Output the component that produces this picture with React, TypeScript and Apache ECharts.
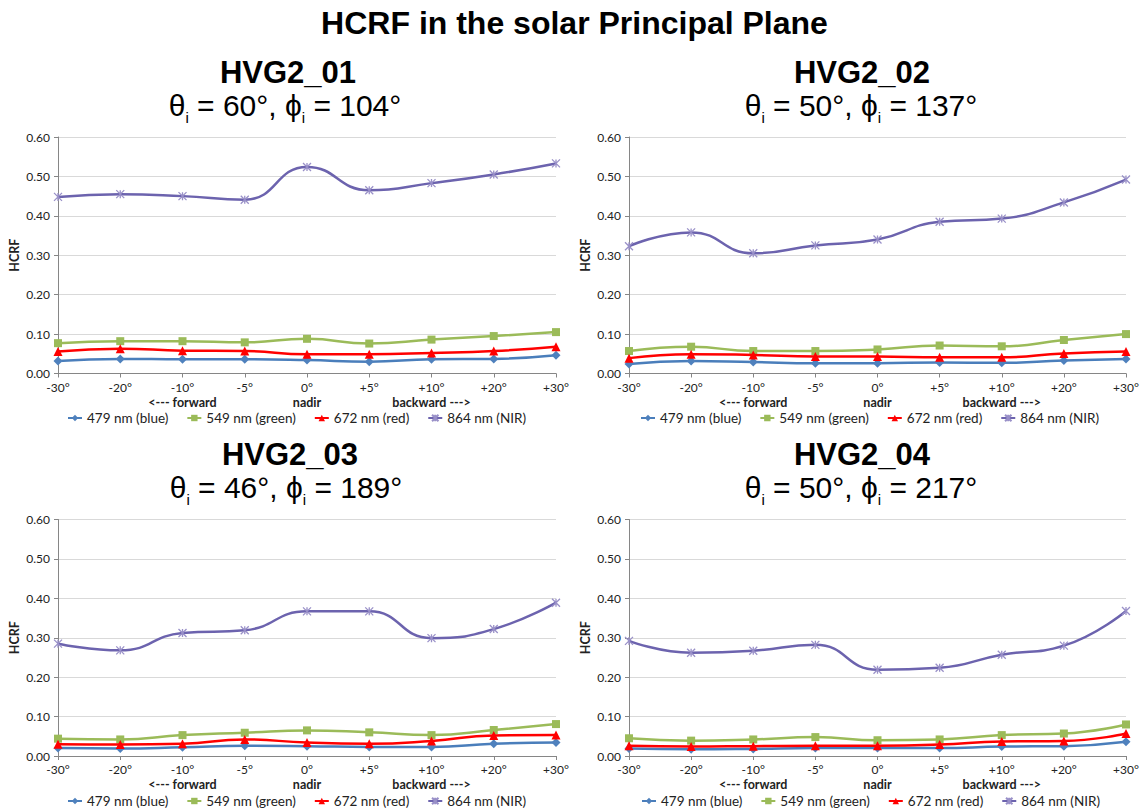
import React, { useEffect, useRef } from "react";
import * as echarts from "echarts";

// ---------- data ----------
const angles = ["-30°", "-20°", "-10°", "-5°", "0°", "+5°", "+10°", "+20°", "+30°"];
const directionLabels: Record<string, string> = {
  "-10°": "<--- forward",
  "0°": "nadir",
  "+10°": "backward --->",
};
const seriesNames = ["479 nm (blue)", "549 nm (green)", "672 nm (red)", "864 nm (NIR)"];
const mainTitle = "HCRF in the solar Principal Plane";
const panelIds = ["HVG2_01", "HVG2_02", "HVG2_03", "HVG2_04"];
const thetaI = [60, 50, 46, 50];
const phiI = [104, 137, 189, 217];
const yAxisName = "HCRF";

const blue01 = [0.032, 0.037, 0.036, 0.036, 0.034, 0.030, 0.036, 0.037, 0.046];
const green01 = [0.077, 0.082, 0.082, 0.079, 0.088, 0.076, 0.086, 0.095, 0.105];
const red01 = [0.056, 0.063, 0.058, 0.057, 0.049, 0.049, 0.052, 0.057, 0.068];
const nir01 = [0.448, 0.455, 0.450, 0.441, 0.524, 0.465, 0.483, 0.505, 0.533];

const blue02 = [0.024, 0.032, 0.029, 0.026, 0.026, 0.028, 0.027, 0.033, 0.037];
const green02 = [0.057, 0.068, 0.057, 0.057, 0.061, 0.071, 0.069, 0.085, 0.100];
const red02 = [0.039, 0.049, 0.047, 0.043, 0.043, 0.041, 0.041, 0.051, 0.056];
const nir02 = [0.323, 0.358, 0.305, 0.325, 0.340, 0.385, 0.393, 0.434, 0.492];

const blue03 = [0.020, 0.019, 0.022, 0.026, 0.025, 0.023, 0.023, 0.031, 0.034];
const green03 = [0.044, 0.042, 0.053, 0.059, 0.065, 0.060, 0.053, 0.066, 0.081];
const red03 = [0.030, 0.029, 0.031, 0.042, 0.034, 0.031, 0.038, 0.052, 0.053];
const nir03 = [0.285, 0.268, 0.312, 0.319, 0.367, 0.367, 0.299, 0.322, 0.389];

const blue04 = [0.019, 0.017, 0.018, 0.020, 0.020, 0.020, 0.024, 0.025, 0.036];
const green04 = [0.045, 0.039, 0.042, 0.048, 0.040, 0.042, 0.053, 0.057, 0.080];
const red04 = [0.026, 0.024, 0.025, 0.026, 0.026, 0.029, 0.037, 0.038, 0.057];
const nir04 = [0.292, 0.262, 0.267, 0.282, 0.219, 0.224, 0.257, 0.280, 0.368];

const panelData = [
  [blue01, green01, red01, nir01],
  [blue02, green02, red02, nir02],
  [blue03, green03, red03, nir03],
  [blue04, green04, red04, nir04],
];

// ---------- layout & style ----------
const W = 1143;
const H = 811;
const gridLeft = [58, 629, 58, 629];
const gridWidth = [498, 497, 498, 497];
const gridTop = [137, 137, 519.5, 519.5];
const gridHeight = 236.5;
const titleCx = [288, 862, 290, 862];
const subCx = [285, 861, 286, 861];
const idCy = [72, 72, 454, 454];
const subCy = [105, 105, 487, 487];
const legendLeft = [67, 640, 67, 641];
const legendTop = [411, 411, 794, 794];

const lineColors = ["#4A7EBB", "#9BBB59", "#FF0000", "#6C63AE"];
const markerColors = ["#4F81BD", "#9BBB59", "#FF0000", "#9990C8"];
const symbols = [
  "diamond",
  "rect",
  "triangle",
  "path://M0,0L10,10M10,0L0,10M5,0L5,10",
];
const symbolSizes = [9, 8, 9, 8];

const labelFont = "Lato, 'Open Sans', sans-serif";
const titleFont = "'Liberation Sans', Arial, sans-serif";

export default function App() {
  const ref = useRef<HTMLDivElement>(null);

  useEffect(() => {
    if (!ref.current) return;
    const chart = echarts.init(ref.current, null, { renderer: "svg" });

    const grids: any[] = [];
    const xAxes: any[] = [];
    const yAxes: any[] = [];
    const series: any[] = [];
    const legends: any[] = [];
    const graphics: any[] = [];

    graphics.push({
      type: "text",
      x: W / 2 + 3,
      y: 23,
      style: {
        text: mainTitle,
        fontFamily: titleFont,
        fontSize: 32,
        fontWeight: "bold",
        fill: "#000",
        align: "center",
        verticalAlign: "middle",
      },
    });

    for (let p = 0; p < 4; p++) {
      grids.push({
        left: gridLeft[p],
        top: gridTop[p],
        width: gridWidth[p],
        height: gridHeight,
        containLabel: false,
      });
      xAxes.push({
        type: "category",
        gridIndex: p,
        data: angles,
        boundaryGap: false,
        axisLine: { show: true, lineStyle: { color: "#868686", width: 1 } },
        axisTick: { show: true, length: 4, lineStyle: { color: "#868686" } },
        splitLine: { show: false },
        axisLabel: {
          interval: 0,
          margin: 6,
          fontFamily: labelFont,
          fontSize: 12,
          color: "#222",
          lineHeight: 15,
          formatter: (v: string) =>
            directionLabels[v] ? v + "\n{b|" + directionLabels[v] + "}" : v,
          rich: {
            b: {
              fontFamily: labelFont,
              fontSize: 12.5,
              fontWeight: "bold",
              color: "#222",
              lineHeight: 15,
            },
          },
        },
      });
      yAxes.push({
        type: "value",
        gridIndex: p,
        min: 0,
        max: 0.6,
        interval: 0.1,
        name: yAxisName,
        nameLocation: "middle",
        nameGap: 37,
        nameTextStyle: {
          fontFamily: labelFont,
          fontSize: 12.5,
          fontWeight: "bold",
          color: "#222",
        },
        axisLine: { show: true, lineStyle: { color: "#868686", width: 1 } },
        axisTick: { show: true, length: 4, lineStyle: { color: "#868686" } },
        splitLine: { show: true, lineStyle: { color: "#D9D9D9", width: 1 } },
        axisLabel: {
          margin: 8,
          fontFamily: labelFont,
          fontSize: 12,
          color: "#222",
          formatter: (v: number) => v.toFixed(2),
        },
      });
      for (let s = 0; s < 4; s++) {
        const isNir = s === 3;
        series.push({
          name: seriesNames[s],
          type: "line",
          xAxisIndex: p,
          yAxisIndex: p,
          data: panelData[p][s],
          smooth: 0.5,
          symbol: symbols[s],
          symbolSize: symbolSizes[s],
          showSymbol: true,
          lineStyle: { color: lineColors[s], width: 2.5 },
          itemStyle: isNir
            ? { color: "none", borderColor: markerColors[s], borderWidth: 1.3 }
            : { color: markerColors[s], borderColor: markerColors[s], borderWidth: 0 },
          z: 2 + s,
        });
      }
      legends.push({
        left: legendLeft[p],
        top: legendTop[p],
        width: 490,
        padding: 0,
        itemWidth: 14,
        itemHeight: 8,
        itemGap: 18,
        data: seriesNames,
        textStyle: { fontFamily: labelFont, fontSize: 13.5, color: "#222" },
      });

      graphics.push({
        type: "text",
        x: titleCx[p],
        y: idCy[p],
        style: {
          text: panelIds[p],
          fontFamily: titleFont,
          fontSize: 31,
          fontWeight: "bold",
          fill: "#000",
          align: "center",
          verticalAlign: "middle",
        },
      });
      graphics.push({
        type: "text",
        x: subCx[p],
        y: subCy[p],
        style: {
          text:
            "{a|θ}{s|i}{a| = " + thetaI[p] + "°, ϕ}{s|i}{a| = " + phiI[p] + "°}",
          align: "center",
          verticalAlign: "middle",
          rich: {
            a: {
              fontFamily: titleFont,
              fontSize: 30,
              lineHeight: 40,
              fill: "#000",
              color: "#000",
            },
            s: {
              fontFamily: titleFont,
              fontSize: 15,
              lineHeight: 8,
              verticalAlign: "bottom",
              fill: "#000",
              color: "#000",
            },
          },
        },
      });
    }

    chart.setOption({
      animation: false,
      backgroundColor: "#fff",
      grid: grids,
      xAxis: xAxes,
      yAxis: yAxes,
      series,
      legend: legends,
      graphic: graphics,
    });

    return () => chart.dispose();
  }, []);

  return (
    <div
      ref={ref}
      style={{ position: "absolute", left: 0, top: 0, width: W, height: H }}
    />
  );
}
